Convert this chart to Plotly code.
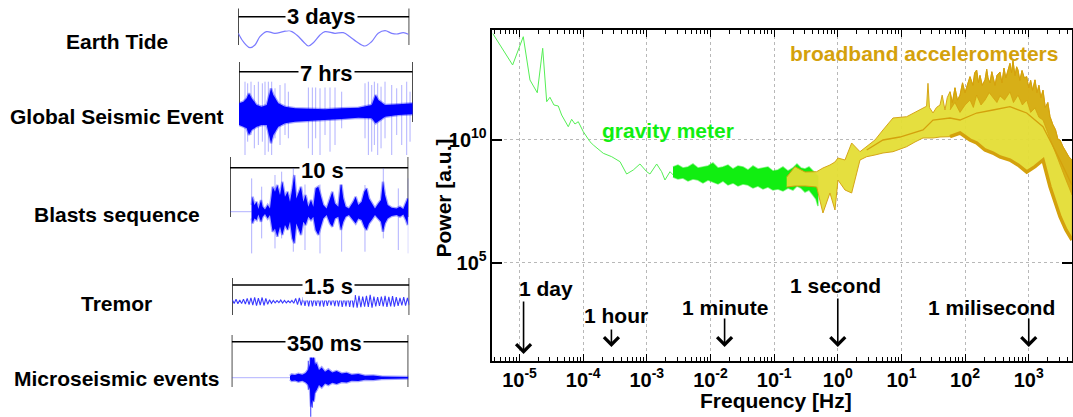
import numpy as np
import plotly.graph_objects as go

W, H = 1073, 417
FONT = "Liberation Sans, Arial, sans-serif"

# ---------------- Power spectrum data (log10 Hz, log10 power) ----------------
grav_logf = [-5.42, -5.108, -4.941, -4.836, -4.721, -4.636, -4.573, -4.522, -4.459, -4.391,
             -4.338, -4.234, -4.181, -4.129, -4.077, -3.998, -3.893, -3.841, -3.684, -3.552,
             -3.421, -3.317, -3.213, -3.108, -3.002, -2.951, -2.845, -2.767, -2.715, -2.636, -2.584]
grav_logp = [14.30, 13.024, 14.172, 12.415, 11.899, 13.701, 11.534, 11.713, 11.400, 11.360,
             10.994, 10.519, 10.820, 10.629, 10.722, 10.317, 9.911, 9.777, 9.440, 9.302,
             9.099, 8.600, 8.762, 9.006, 8.693, 8.600, 9.006, 8.693, 8.356, 8.693, 8.559]

grav_band_logf = [-2.589, -2.511, -2.432, -2.353, -2.275, -2.196, -2.118, -2.039, -1.961, -1.882,
                  -1.804, -1.725, -1.646, -1.568, -1.489, -1.411, -1.332, -1.254, -1.175, -1.097,
                  -1.018, -0.940, -0.861, -0.782, -0.704, -0.641, -0.578, -0.515, -0.452, -0.390,
                  -0.343, -0.311]
grav_band_up = [8.884, 8.965, 8.843, 8.884, 9.006, 8.843, 8.884, 8.925, 9.046, 8.843,
                8.884, 8.965, 8.803, 8.925, 8.884, 8.762, 8.925, 8.803, 8.843, 8.884,
                8.722, 8.762, 8.884, 8.722, 8.843, 9.006, 8.843, 8.803, 8.884, 8.722,
                8.640, 8.519]
grav_band_lo = [8.478, 8.397, 8.437, 8.316, 8.397, 8.356, 8.235, 8.356, 8.275, 8.194,
                8.316, 8.153, 8.235, 8.113, 8.194, 8.153, 8.032, 8.113, 7.991, 8.072,
                7.950, 7.991, 7.910, 8.032, 7.950, 8.113, 8.032, 7.869, 7.950, 7.748,
                7.585, 7.302]

bb_up_logf = [-0.803, -0.672, -0.515, -0.332, -0.233, -0.123, -0.044, 0.003, 0.113, 0.218,
              0.349, 0.454, 0.584, 0.710, 0.867, 1.082, 1.213, 1.339, 1.395, 1.417, 1.44,
              1.496, 1.55, 1.606, 1.64, 1.684, 1.72, 1.763, 1.80, 1.841, 1.88, 1.92, 1.96,
              1.998, 2.04, 2.077, 2.124, 2.15, 2.182, 2.21, 2.234, 2.27, 2.313, 2.34, 2.36,
              2.391, 2.42, 2.438, 2.47, 2.5, 2.548, 2.58, 2.611, 2.64, 2.67, 2.705, 2.73,
              2.752, 2.784, 2.81, 2.831, 2.86, 2.894, 2.93, 2.968, 3.0, 3.03, 3.06, 3.098,
              3.13, 3.16, 3.19, 3.224, 3.26, 3.3, 3.334, 3.38, 3.42, 3.46, 3.491, 3.54,
              3.585, 3.63, 3.68]
bb_up_logp = [8.478, 8.896, 8.681, 8.693, 8.843, 8.965, 9.087, 9.249, 9.168, 9.858,
              9.505, 9.708, 9.980, 10.386, 10.873, 10.925, 11.116, 11.278, 11.35, 12.28, 11.3,
              11.075, 11.3, 11.4, 11.8, 11.2, 11.7, 11.94, 11.5, 12.1, 11.6, 11.8, 12.3,
              11.9, 12.2, 12.55, 12.2, 12.7, 12.82, 12.3, 12.6, 12.2, 12.42, 12.85, 12.5,
              12.3, 12.75, 12.55, 12.2, 12.6, 12.74, 12.3, 12.9, 12.5, 12.8, 13.09, 12.7,
              13.2, 12.6, 12.95, 12.82, 12.4, 12.8, 12.5, 12.55, 12.1, 12.4, 12.0, 12.42,
              11.9, 12.2, 11.7, 12.0, 11.3, 11.5, 10.93, 10.6, 10.4, 10.0, 9.98, 9.7,
              9.49, 9.3, 9.17]

bb_lo_logf = [-0.803, -0.672, -0.515, -0.332, -0.233, -0.123, -0.044, 0.003, 0.113, 0.218,
              0.349, 0.454, 0.584, 0.710, 0.867, 1.082, 1.213, 1.339, 1.417, 1.496, 1.606,
              1.763, 1.920, 2.077, 2.182, 2.313, 2.438, 2.548, 2.705, 2.831, 2.968, 3.098,
              3.224, 3.334, 3.491, 3.585, 3.68]
bb_lo_logp = [8.072, 8.113, 8.113, 8.072, 7.017, 7.829, 7.139, 8.356, 7.951, 7.829,
              9.168, 9.302, 9.371, 9.452, 9.505, 9.708, 9.899, 10.061, 10.061, 10.061, 10.101,
              10.114, 10.264, 9.980, 9.858, 9.574, 9.452, 9.290, 9.168, 8.965, 8.681, 8.896,
              9.168, 8.084, 6.867, 6.327, 5.921]

bb_mid_logf = [0.454, 0.710, 0.976, 1.339, 1.496, 1.763, 1.920, 2.182, 2.438, 2.705, 2.968,
               3.224, 3.491, 3.68]
bb_mid_logp = [9.574, 9.980, 10.101, 10.386, 10.791, 10.873, 10.791, 11.075, 11.197, 11.331,
               11.075, 10.519, 9.168, 8.153]

bb_gold_logf = [1.763, 1.84, 1.92, 2.0, 2.077, 2.13, 2.182, 2.25, 2.313, 2.38, 2.438, 2.5,
                2.548, 2.62, 2.705, 2.76, 2.831, 2.9, 2.968, 3.03, 3.098, 3.16, 3.224, 3.28,
                3.334, 3.41, 3.491, 3.585, 3.68]
bb_gold_lo = [11.2, 11.5, 11.1, 11.4, 11.6, 11.3, 11.8, 11.4, 11.6, 11.9, 11.7, 11.5,
              11.77, 11.6, 11.93, 11.5, 11.8, 11.4, 11.6, 11.1, 11.28, 10.9, 10.79, 10.4,
              9.98, 9.5, 8.97, 8.36, 7.75]

x_tick_exp = [-5, -4, -3, -2, -1, 0, 1, 2, 3]
y_tick_exp = [5, 10]

arrow_labels = ["1 day", "1 hour", "1 minute", "1 second", "1 milisecond"]
arrow_period_s = [86400, 3600, 60, 1, 0.001]

# ---------------- Waveform data (time, amplitude) ----------------
tide_t = [0, 2.1, 4.9, 7.0, 9.1, 11.9, 15.4, 18.9, 21.6, 24.6, 27.4, 29.5, 31.6, 34.4,
          36.5, 40.7, 44.2, 47.0, 49.8, 53.3, 56.1, 58.9, 61.8, 64.6, 66.7, 69.5, 71.6]
tide_v = [5.0, -3.4, -9.4, -6.7, 1.6, 6.6, 5.0, 6.6, 7.6, 3.3, -3.4, -7.7, -4.4, 3.3,
          6.6, 5.0, 5.6, 1.6, -3.4, -7.7, -3.4, 5.0, 7.6, 5.0, 4.3, 5.6, 4.0]

glob_t = [0.0, 0.175, 0.309, 0.403, 0.511, 0.712, 0.914, 1.115, 1.290, 1.384, 1.585, 1.854,
          2.257, 2.795, 3.467, 4.138, 4.810, 5.348, 5.509, 5.616, 5.885, 6.422, 7.0]
glob_top = [12.7, 14.3, 17.7, 22.7, 17.7, 11.0, 9.3, 11.0, 27.7, 21.0, 12.7, 9.3,
            7.7, 7.0, 6.7, 7.7, 8.3, 11.0, 21.0, 16.0, 11.0, 11.7, 12.7]
glob_bot = [-9.0, -10.7, -12.3, -19.0, -14.0, -10.7, -9.0, -9.0, -27.3, -19.0, -10.7, -7.3,
            -5.7, -5.0, -4.0, -3.0, -1.7, -2.3, -7.3, -5.7, -0.7, 1.0, 1.7]
glob_spike_t = [0.242, 0.349, 0.484, 0.618, 0.779, 0.941, 1.048, 1.182, 1.317, 1.451, 1.653,
                1.854, 1.989, 2.795, 2.956, 3.090, 3.265, 3.467, 3.668, 3.870, 4.138, 5.079,
                5.213, 5.348, 5.455, 5.589, 5.724, 5.885, 6.154, 6.355, 6.557, 6.758, 6.893]
glob_spike_top = [34.3, 32.7, 34.3, 31, 34.3, 32.7, 34.3, 34.3, 34.3, 27.7, 31, 32.7, 24.3,
                  34.3, 32.7, 34.3, 27.7, 32.7, 29.3, 34.3, 24.3, 32.7, 34.3, 31, 34.3, 32.7,
                  29.3, 34.3, 31, 27.7, 31, 34.3, 24.3]
glob_spike_bot = [-39, -25.7, -19, -32.3, -29, -25.7, -39, -35.7, -39, -22.3, -29, -19, -22.3,
                  -32.3, -39, -22.3, -39, -19, -35.7, -29, -12.3, -22.3, -39, -35.7, -29, -39,
                  -32.3, -22.3, -39, -19, -29, -39, -25.7]

blast_t = [1.215, 1.271, 1.365, 1.495, 1.589, 1.738, 1.832, 1.963, 2.112, 2.243, 2.393, 2.523,
           2.654, 2.804, 2.935, 3.084, 3.234, 3.365, 3.495, 3.608, 3.720, 3.832, 3.981, 4.112,
           4.243, 4.393, 4.542, 4.673, 4.804, 4.953, 5.084, 5.234, 5.421, 5.608, 5.738, 5.888,
           6.075, 6.224, 6.355, 6.486, 6.673, 6.916, 7.047, 7.196, 7.383, 7.533, 7.664, 7.794,
           7.944, 8.131, 8.318, 8.467, 8.579, 8.692, 8.841, 9.065, 9.346, 9.533, 9.720, 9.869,
           9.963, 10.0]
blast_top = [6.7, 15, 6.7, 10, 2.7, 11.7, 5, 2.3, 6.7, 3.3, 25, 20, 26.7, 16.7, 30, 15, 20, 10,
             23.3, 36.7, 13.3, 18.3, 25, 10, 16.7, 5, 11.7, 5, 23.3, 25, 16.7, 6.7, 3.3, 13.3,
             20, 8.3, 5, 30, 13.3, 5, 3.3, 10, 15, 6.7, 10, 20, 23.3, 13.3, 8.3, 3.3, 8.3, 11.7,
             30, 16.7, 6.7, 4, 3.3, 5, 2.7, 8.3, 13.3, 11.7]
blast_bot = [-6.7, -11.7, -6.7, -8.3, -2.7, -10, -5, -2.3, -6.7, -3.3, -20, -16.7, -25, -15,
             -23.3, -13.3, -18.3, -10, -26.7, -31.7, -11.7, -16.7, -23.3, -10, -13.3, -5, -8.3,
             -5, -18.3, -23.3, -16.7, -6.7, -3.3, -11.7, -15, -6.7, -5, -18.3, -10, -5, -3.3,
             -8.3, -11.7, -6.7, -8.3, -15, -18.3, -11.7, -8.3, -3.3, -6.7, -10, -20, -11.7,
             -6.7, -4.3, -3.3, -5, -2.7, -8.3, -13.3, -11.7]
blast_spike_t = [1.215, 1.776, 2.523, 2.897, 3.551, 4.206, 5.047, 6.262, 7.570, 8.598, 9.440, 10.0]
blast_spike_top = [33.3, 25, 36.7, 40, 43.3, 30, 36.7, 33.3, 26.7, 43.3, 23.3, 33.3]
blast_spike_bot = [-41.7, -26.7, -36.7, -26.7, -40, -38.3, -41.7, -40, -40, -26.7, -38.3, -41.7]

tremor_v = [2.0, -1.8, 2.4, -2.0, 1.6, -1.8, 2.6, -2.4, 3.3, -2.9, 3.9, -3.4, 4.3, -3.9,
            3.6, -3.3, 4.2, -3.8, 3.3, -2.6, 2.0, -1.6, 1.3, -1.2, 1.0, -1.0, 1.6, -1.3,
            1.3, -1.2, 0.9, -1.0, 1.3, -1.6, 3.3, -2.9, 3.9, -3.6, 4.6, -4.2, 4.9, -4.6,
            5.2, -4.7, 4.6, -4.3, 4.9, -4.7, 5.5, -4.9, 4.6, -4.2, 3.9, -3.6, 4.6, -4.4,
            5.2, -4.8, 5.8, -5.2, 4.9, -4.6, 5.5, -5.2, 6.2, -5.7, 6.5, -6.0, 5.8, -5.5,
            5.2, -4.9, 5.8, -5.2, 6.8, -6.0, 5.2, -4.7, 4.6, -4.3, 5.2, -4.8, 5.8, -5.3,
            4.9, -4.6, 5.5, -4.9, 4.6, -4.2, 3.9, -3.6, 4.6, -3.9, 3.9, -3.4]

micro_t = [115.6, 118.9, 125.5, 132.1, 140.0, 146.6, 151.9, 155.2, 157.2, 159.8, 162.5, 165.1,
           168.4, 173.0, 178.3, 184.9, 191.5, 199.4, 208.0, 217.9, 227.8, 237.7, 250.9, 264.2,
           280.7, 297.2, 317.0, 350.0]
micro_top = [1.7, 3.3, 2.7, 4, 3, 4.7, 8.3, 14.3, 27.7, 17.7, 22.7, 12.7, 14.3, 7.7, 10.3, 6,
             8.3, 5.3, 6.7, 4.3, 5, 3, 3.7, 2, 2.3, 1.3, 1, 0.7]
micro_bot = [-1.7, -3.3, -2.7, -4, -3, -4.7, -7.3, -12.3, -29, -22.3, -24, -14, -12.3, -7.3,
             -9.7, -5.7, -7.3, -5, -6.3, -4.3, -4.7, -3, -3.3, -2, -2.3, -1.3, -1, -0.7]
micro_spike_t = [151.9, 156.5, 159.8, 162.5, 166.4]
micro_spike_top = [17, 29.3, 25, 20, 15]
micro_spike_bot = [-12, -39, -30, -22, -15]

wave_names = ["Earth Tide", "Global Seismic Event", "Blasts sequence", "Tremor",
              "Microseismic events"]
wave_scale_text = ["3 days", "7 hrs", "10 s", "1.5 s", "350 ms"]
wave_duration = [72, 7, 10, 1.5, 350]

# ---------------- figure ----------------
fig = go.Figure()
BLUE = "#0000ff"
FUZZ = "rgba(0,0,255,0.35)"
SPIKE = "rgba(60,60,255,0.40)"
GOLD = "#d4a10c"
YELLOW = "#e4de35"
GREEN_LINE = "#55ee55"
GREEN = "#11ee11"


def p10(a):
    return 10 ** np.asarray(a, dtype=float)


# gravity meter
fig.add_trace(go.Scatter(x=p10(grav_logf), y=p10(grav_logp), mode="lines",
                         line=dict(color=GREEN_LINE, width=1), xaxis="x", yaxis="y"))
fig.add_trace(go.Scatter(x=p10(grav_band_logf + grav_band_logf[::-1]),
                         y=p10(grav_band_up + grav_band_lo[::-1]), mode="lines",
                         fill="toself", fillcolor=GREEN,
                         line=dict(color="rgba(17,238,17,0.5)", width=1.5),
                         xaxis="x", yaxis="y"))
# broadband accelerometers
fig.add_trace(go.Scatter(x=p10(bb_up_logf + bb_lo_logf[::-1]),
                         y=p10(bb_up_logp + bb_lo_logp[::-1]), mode="lines",
                         fill="toself", fillcolor=YELLOW, line=dict(color=GOLD, width=1),
                         opacity=0.95, xaxis="x", yaxis="y"))
gold_i = bb_up_logf.index(bb_gold_logf[0])
fig.add_trace(go.Scatter(x=p10(bb_up_logf[gold_i:] + bb_gold_logf[::-1]),
                         y=p10(bb_up_logp[gold_i:] + bb_gold_lo[::-1]), mode="lines",
                         fill="toself", fillcolor="rgba(212,161,12,0.78)",
                         line=dict(color=GOLD, width=0.8), xaxis="x", yaxis="y"))
fig.add_trace(go.Scatter(x=p10(bb_mid_logf), y=p10(bb_mid_logp), mode="lines",
                         line=dict(color=GOLD, width=1.3), xaxis="x", yaxis="y"))
fig.add_trace(go.Scatter(x=p10(bb_lo_logf[21:]), y=p10(bb_lo_logp[21:]), mode="lines",
                         line=dict(color=GOLD, width=3.5), xaxis="x", yaxis="y"))


def spikes(t, top, bot):
    xs, ys = [], []
    for a, b, c in zip(t, top, bot):
        xs += [a, a, None]
        ys += [b, c, None]
    return xs, ys


def band(n, t, top, bot):
    fig.add_trace(go.Scatter(x=list(t) + list(t)[::-1], y=list(top) + list(bot)[::-1],
                             mode="lines", fill="toself", fillcolor=BLUE,
                             line=dict(color=FUZZ, width=2.5),
                             xaxis=f"x{n}", yaxis=f"y{n}"))


# Earth tide
fig.add_trace(go.Scatter(x=tide_t, y=tide_v, mode="lines", line_shape="spline",
                         line=dict(color="#7b7bff", width=1.2), xaxis="x2", yaxis="y2"))
# Global seismic
sx, sy = spikes(glob_spike_t, glob_spike_top, glob_spike_bot)
fig.add_trace(go.Scatter(x=sx, y=sy, mode="lines", line=dict(color=SPIKE, width=1),
                         xaxis="x3", yaxis="y3"))
band(3, glob_t, glob_top, glob_bot)
# Blasts
sx, sy = spikes(blast_spike_t, blast_spike_top, blast_spike_bot)
fig.add_trace(go.Scatter(x=sx, y=sy, mode="lines", line=dict(color=SPIKE, width=1),
                         xaxis="x4", yaxis="y4"))
fig.add_trace(go.Scatter(x=[0, blast_t[0]], y=[0, 0], mode="lines",
                         line=dict(color=SPIKE, width=1), xaxis="x4", yaxis="y4"))
band(4, blast_t, blast_top, blast_bot)
# Tremor
fig.add_trace(go.Scatter(x=np.linspace(0, wave_duration[3], len(tremor_v)), y=tremor_v,
                         mode="lines", line=dict(color="#3a3aff", width=1.1),
                         xaxis="x5", yaxis="y5"))
# Microseismic
sx, sy = spikes(micro_spike_t, micro_spike_top, micro_spike_bot)
fig.add_trace(go.Scatter(x=sx, y=sy, mode="lines", line=dict(color="rgba(40,40,255,0.7)", width=1.3),
                         xaxis="x6", yaxis="y6"))
fig.add_trace(go.Scatter(x=[0, micro_t[0]], y=[0, 0], mode="lines",
                         line=dict(color=SPIKE, width=1), xaxis="x6", yaxis="y6"))
band(6, micro_t, micro_top, micro_bot)

# ---------------- layout ----------------
PX0, PX1, PY0, PY1 = 492.4, 1071.9, 30, 361
minor_vals = [m * 10.0 ** k for k in range(-6, 4) for m in range(2, 10)]


def b(s):
    return f"<b>{s}</b>"


layout = dict(
    width=W, height=H, margin=dict(l=0, r=0, t=0, b=0), showlegend=False,
    paper_bgcolor="white", plot_bgcolor="rgba(0,0,0,0)",
    font=dict(family=FONT, color="black", size=21),
    xaxis=dict(type="log", range=[-5.426, 3.678], domain=[PX0 / W, PX1 / W], anchor="y",
               showline=True, linecolor="black", linewidth=1.6, mirror="ticks",
               ticks="inside", ticklen=7, tickwidth=1, tickcolor="black",
               tickmode="array", tickvals=[10.0 ** e for e in x_tick_exp],
               ticktext=[b(f"10<sup>{e}</sup>") for e in x_tick_exp],
               tickfont=dict(size=20), showgrid=True, gridcolor="#b8b8b8", griddash="dot",
               gridwidth=1, zeroline=False,
               minor=dict(tickmode="array", tickvals=minor_vals, ticks="inside", ticklen=4,
                          tickcolor="black", tickwidth=1, showgrid=False)),
    yaxis=dict(type="log", range=[1.01, 14.444], domain=[1 - PY1 / H, 1 - PY0 / H], anchor="x",
               showline=True, linecolor="black", linewidth=1.6, mirror="ticks",
               ticks="inside", ticklen=10, tickwidth=1.5, tickcolor="black",
               tickmode="array", tickvals=[10.0 ** e for e in y_tick_exp],
               ticktext=[b(f"10<sup>{e}</sup>") for e in y_tick_exp],
               tickfont=dict(size=20), showgrid=True, gridcolor="#b8b8b8", griddash="dot",
               gridwidth=1, zeroline=False),
)

# waveform panels: (x0, x1, y_top, y_bottom, baseline) in pixels
wave_boxes = [(238.3, 409.3, 24, 52, 38.3),
              (239.0, 412.7, 74, 162, 116.0),
              (230.0, 408.3, 166, 259, 211.7),
              (232.3, 409.3, 289, 314, 301.7),
              (231.7, 408.3, 344, 417, 377.7)]
# scale bar: (bar_y, tick_top, tick_bottom, text_x, text_y)
bars = [(16.7, 8.5, 45, 321, 15.5),
        (71.7, 62, 122, 326, 71.5),
        (167.7, 157, 217, 322.5, 168.5),
        (285, 278, 315, 328, 285),
        (341.7, 335, 387, 324.5, 341.5)]
label_y = [40, 114.5, 212.5, 301.5, 376.5]

shapes = []
annotations = []
for i in range(5):
    n = i + 2
    x0, x1, yt, yb, base = wave_boxes[i]
    layout[f"xaxis{n}"] = dict(domain=[x0 / W, x1 / W], range=[0, wave_duration[i]],
                               visible=False, anchor=f"y{n}", fixedrange=True)
    layout[f"yaxis{n}"] = dict(domain=[max(0.0, 1 - yb / H), min(1.0, 1 - yt / H)],
                               range=[-(yb - base), base - yt],
                               visible=False, anchor=f"x{n}", fixedrange=True)
    by, tt, tb, tx, ty = bars[i]
    shapes.append(dict(type="line", xref=f"x{n}", yref="paper", x0=0, x1=wave_duration[i],
                       y0=1 - by / H, y1=1 - by / H, line=dict(color="black", width=1.4),
                       layer="below"))
    for xe in (0, wave_duration[i]):
        shapes.append(dict(type="line", xref=f"x{n}", yref="paper", x0=xe, x1=xe,
                           y0=1 - tt / H, y1=1 - tb / H, line=dict(color="black", width=1.4),
                           layer="below"))
    annotations.append(dict(text=b(wave_scale_text[i]), xref="paper", yref="paper", x=tx / W,
                            y=1 - (ty + 1.5) / H, showarrow=False, font=dict(size=22),
                            bgcolor="white", borderpad=1, xanchor="center", yanchor="middle"))
    annotations.append(dict(text=b(wave_names[i]), xref="paper", yref="paper", x=116.5 / W,
                            y=1 - (label_y[i] + 1.5) / H, showarrow=False, font=dict(size=21),
                            xanchor="center", yanchor="middle"))

# arrows for periods
arrow_head_px = [354, 347, 347, 347, 347]
arrow_len_px = [54, 19, 30, 50, 30]
arrow_text_xy = [(546, 286.5), (616, 314), (724.5, 305.5), (835, 284), (991, 305.5)]
ylo, yhi = 1.01, 14.444
for lab, per, hp, ln, (tx, ty) in zip(arrow_labels, arrow_period_s, arrow_head_px,
                                      arrow_len_px, arrow_text_xy):
    head_logp = yhi - (hp - PY0) / (PY1 - PY0) * (yhi - ylo)
    annotations.append(dict(x=float(np.log10(1.0 / per)), y=head_logp, xref="x", yref="y",
                            text="", showarrow=True, ax=0, ay=-ln, arrowhead=4,
                            arrowsize=1.8, arrowwidth=1.6, arrowcolor="black", standoff=0))
    annotations.append(dict(text=b(lab), xref="paper", yref="paper", x=tx / W, y=1 - (ty + 1.5) / H,
                            showarrow=False, font=dict(size=21), xanchor="center",
                            yanchor="middle"))

annotations += [
    dict(text=b("gravity meter"), xref="paper", yref="paper", x=667.5 / W, y=1 - 130 / H,
         showarrow=False, font=dict(size=21, color=GREEN), xanchor="center", yanchor="middle"),
    dict(text=b("broadband accelerometers"), xref="paper", yref="paper", x=924 / W,
         y=1 - 53.5 / H, showarrow=False, font=dict(size=21, color=GOLD), xanchor="center",
         yanchor="middle"),
    dict(text=b("Frequency [Hz]"), xref="paper", yref="paper", x=776 / W, y=1 - 400 / H,
         showarrow=False, font=dict(size=21), xanchor="center", yanchor="middle"),
    dict(text=b("Power [a.u.]"), xref="paper", yref="paper", x=443 / W, y=1 - 198.5 / H,
         showarrow=False, font=dict(size=21), textangle=-90, xanchor="center",
         yanchor="middle"),
]

layout["shapes"] = shapes
layout["annotations"] = annotations
fig.update_layout(**layout)
fig.write_html("out.html", config={"displayModeBar": False})
